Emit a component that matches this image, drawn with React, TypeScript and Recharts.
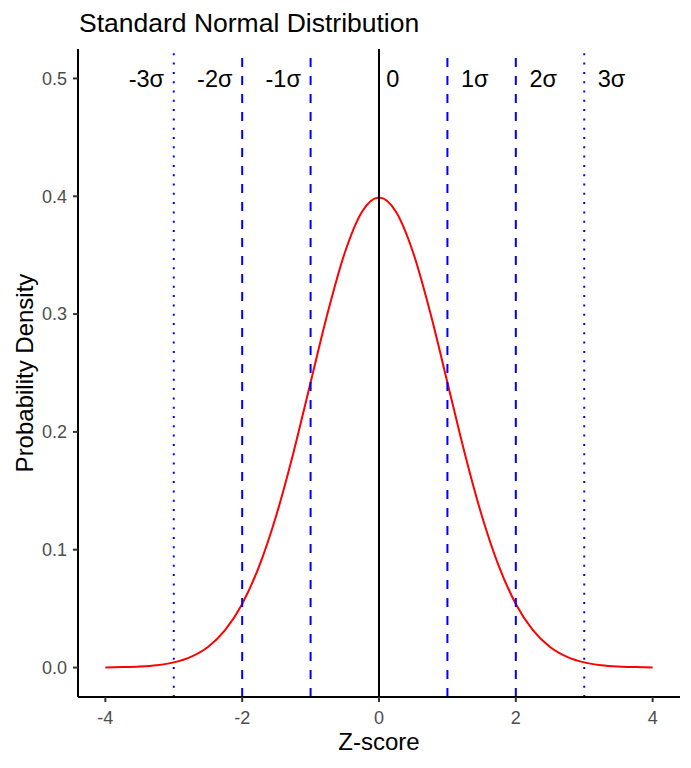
import React from 'react'
import {
  LineChart,
  Line,
  XAxis,
  YAxis,
  ReferenceLine,
  ReferenceDot,
} from 'recharts'

// density curve
const zScores = [
  -4, -3.75, -3.5, -3.25, -3, -2.75, -2.5, -2.25, -2, -1.75, -1.5, -1.25, -1,
  -0.75, -0.5, -0.25, 0, 0.25, 0.5, 0.75, 1, 1.25, 1.5, 1.75, 2, 2.25, 2.5,
  2.75, 3, 3.25, 3.5, 3.75, 4,
]
const densities = [
  0.0001, 0.0004, 0.0009, 0.002, 0.0044, 0.0091, 0.0175, 0.0317, 0.054, 0.0863,
  0.1295, 0.1826, 0.242, 0.3011, 0.3521, 0.3867, 0.3989, 0.3867, 0.3521, 0.3011,
  0.242, 0.1826, 0.1295, 0.0863, 0.054, 0.0317, 0.0175, 0.0091, 0.0044, 0.002,
  0.0009, 0.0004, 0.0001,
]

const sigmaLines = [-3, -2, -1, 0, 1, 2, 3]
const sigmaLabels = ['-3σ', '-2σ', '-1σ', '0', '1σ', '2σ', '3σ']
const labelX = [-3.4, -2.4, -1.4, 0.2, 1.4, 2.4, 3.4]
const labelY = 0.5

const xTicks = [-4, -2, 0, 2, 4]
const yTicks = [0, 0.1, 0.2, 0.3, 0.4, 0.5]

const data = zScores.map((z, i) => ({ z, density: densities[i] }))

const FONT = '"Liberation Sans", Arial, Helvetica, sans-serif'

function lineStyle(s: number) {
  if (s === 0) return { stroke: '#000000', dash: undefined }
  if (Math.abs(s) === 3) return { stroke: '#0000ff', dash: '2 7.3' }
  return { stroke: '#0000ff', dash: '9 9' }
}

function YTitle(props: any) {
  const vb = props.viewBox
  const cx = vb.x + 24
  const cy = vb.y + vb.height / 2
  return (
    <text
      x={cx}
      y={cy}
      transform={`rotate(-90, ${cx}, ${cy})`}
      textAnchor="middle"
      dominantBaseline="central"
      fontSize={24}
      fontFamily={FONT}
      fill="#000"
    >
      Probability Density
    </text>
  )
}

function XTitle(props: any) {
  const vb = props.viewBox
  return (
    <text
      x={vb.x + vb.width / 2}
      y={vb.y + 53}
      textAnchor="middle"
      fontSize={24}
      fontFamily={FONT}
      fill="#000"
    >
      Z-score
    </text>
  )
}

export default function App() {
  return (
    <div style={{ position: 'fixed', left: 0, top: 0, width: 691, height: 768, background: '#fff' }}>
      <svg width={691} height={40} style={{ position: 'absolute', left: 0, top: 0 }}>
        <text x={79} y={32} fontSize={26.5} fontFamily={FONT} fill="#000">
          Standard Normal Distribution
        </text>
      </svg>
      <LineChart
        width={691}
        height={768}
        data={data}
        margin={{ top: 49, right: 11, left: 0, bottom: 0 }}
      >
        <XAxis
          dataKey="z"
          type="number"
          domain={[-4.4, 4.4]}
          ticks={xTicks}
          height={71}
          axisLine={{ stroke: '#000', strokeWidth: 2 }}
          tickLine={{ stroke: '#333', strokeWidth: 2 }}
          tickSize={5}
          tickMargin={9}
          tick={{ fill: '#4d4d4d', fontSize: 18, fontFamily: FONT }}
          label={<XTitle />}
        />
        <YAxis
          type="number"
          domain={[-0.025, 0.525]}
          ticks={yTicks}
          tickFormatter={(v: number) => v.toFixed(1)}
          width={78}
          axisLine={{ stroke: '#000', strokeWidth: 2 }}
          tickLine={{ stroke: '#333', strokeWidth: 2 }}
          tickSize={5}
          tickMargin={6}
          tick={{ fill: '#4d4d4d', fontSize: 18, fontFamily: FONT }}
          label={<YTitle />}
        />
        <Line
          type="monotone"
          dataKey="density"
          stroke="#ff0000"
          strokeWidth={2}
          dot={false}
          activeDot={false}
          isAnimationActive={false}
        />
        {sigmaLines.map((s) => {
          const st = lineStyle(s)
          return (
            <ReferenceLine
              key={`l${s}`}
              x={s}
              stroke={st.stroke}
              strokeWidth={2}
              strokeDasharray={st.dash}
            />
          )
        })}
        {sigmaLabels.map((lab, i) => (
          <ReferenceDot
            key={`t${i}`}
            x={labelX[i]}
            y={labelY}
            r={0}
            fill="none"
            stroke="none"
            label={{
              value: lab,
              position: 'center',
              fontSize: 23.5,
              fontFamily: FONT,
              fill: '#000',
            }}
          />
        ))}
      </LineChart>
    </div>
  )
}
